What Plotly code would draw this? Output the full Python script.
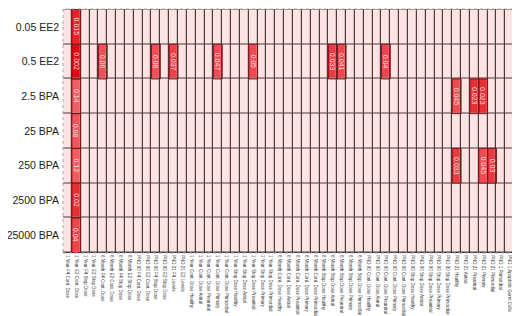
import plotly.graph_objects as go

rows = ["0.05 EE2", "0.5 EE2", "2.5 BPA", "25 BPA", "250 BPA", "2500 BPA", "25000 BPA"]

columns = [
    "1 Year F4 Cont. Dose", "1 Year E2 Cont. Dose", "1 Year F4 Stop Dose", "1 Year E2 Stop Dose",
    "6 Month F4 Cont. Dose", "6 Month E2 Cont. Dose", "6 Month F4 Stop Dose", "6 Month E2 Stop Dose",
    "PND 90 F4 Cont. Dose", "PND 90 E2 Cont. Dose", "PND 90 F4 Stop Dose", "PND 90 E2 Stop Dose",
    "PND 21 F4 Levels", "PND 21 E2 Levels",
    "1 Year Cont. Dose Healthy", "1 Year Cont. Dose Antral", "1 Year Cont. Dose Preantral",
    "1 Year Cont. Dose Primary", "1 Year Cont. Dose Primordial",
    "1 Year Stop Dose Healthy", "1 Year Stop Dose Antral", "1 Year Stop Dose Preantral",
    "1 Year Stop Dose Primary", "1 Year Stop Dose Primordial",
    "6 Month Cont. Dose Healthy", "6 Month Cont. Dose Antral", "6 Month Cont. Dose Preantral",
    "6 Month Cont. Dose Primary", "6 Month Cont. Dose Primordial",
    "6 Month Stop Dose Healthy", "6 Month Stop Dose Antral", "6 Month Stop Dose Preantral",
    "6 Month Stop Dose Primary", "6 Month Stop Dose Primordial",
    "PND 90 Cont. Dose Healthy", "PND 90 Cont. Dose Antral", "PND 90 Cont. Dose Preantral",
    "PND 90 Cont. Dose Primary", "PND 90 Cont. Dose Primordial",
    "PND 90 Stop Dose Healthy", "PND 90 Stop Dose Antral", "PND 90 Stop Dose Preantral",
    "PND 90 Stop Dose Primary", "PND 90 Stop Dose Primordial",
    "PND 21 Healthy", "PND 21 Antral", "PND 21 Preantral", "PND 21 Primary", "PND 21 Primordial",
    "PND 1 Primordial", "PND 1 Apoptotic Germ Cells", "PND 1 Healthy Germ Cells",
]

# significant cells (p-values)
sig_rows = ["0.05 EE2", "0.5 EE2", "0.5 EE2", "0.5 EE2", "0.5 EE2", "0.5 EE2", "0.5 EE2",
            "0.5 EE2", "0.5 EE2", "0.5 EE2",
            "2.5 BPA", "2.5 BPA", "2.5 BPA", "2.5 BPA",
            "25 BPA",
            "250 BPA", "250 BPA", "250 BPA", "250 BPA",
            "2500 BPA", "25000 BPA"]
sig_cols = ["1 Year E2 Cont. Dose",
            "1 Year E2 Cont. Dose", "6 Month F4 Cont. Dose", "PND 90 F4 Stop Dose", "PND 21 F4 Levels",
            "1 Year Cont. Dose Primary", "1 Year Stop Dose Preantral", "6 Month Stop Dose Antral",
            "6 Month Stop Dose Preantral", "PND 90 Cont. Dose Preantral",
            "1 Year E2 Cont. Dose", "PND 21 Healthy", "PND 21 Preantral", "PND 21 Primary",
            "1 Year E2 Cont. Dose",
            "1 Year E2 Cont. Dose", "PND 21 Healthy", "PND 21 Primary", "PND 21 Primordial",
            "1 Year E2 Cont. Dose", "1 Year E2 Cont. Dose"]
sig_pvals = [0.015,
             0.002, 0.06, 0.06, 0.037, 0.047, 0.05, 0.033, 0.041, 0.04,
             0.14, 0.045, 0.023, 0.023,
             0.08,
             0.12, 0.033, 0.045, 0.03,
             0.02, 0.04]
sig_labels = ["0.015",
              "0.002", "0.06", "0.06", "0.037", "0.047", "0.05", "0.033", "0.041", "0.04",
              "0.14", "0.045", "0.023", "0.023",
              "0.08",
              "0.12", "0.033", "0.045", "0.03",
              "0.02", "0.04"]

base_z = [[0 for _ in columns] for _ in rows]
sig_z = [[None for _ in columns] for _ in rows]
for r, c, p in zip(sig_rows, sig_cols, sig_pvals):
    sig_z[rows.index(r)][columns.index(c)] = p

fig = go.Figure()
fig.add_trace(go.Heatmap(
    z=base_z, x=columns, y=rows, colorscale=[[0, "#fde3e3"], [1, "#fde3e3"]],
    showscale=False, xgap=1.2, ygap=1, hoverinfo="skip"))
fig.add_trace(go.Heatmap(
    z=sig_z, x=columns, y=rows,
    colorscale=[[0, "#e2000f"], [0.12, "#e8282f"], [0.3, "#f04a52"], [0.5, "#f2525b"], [1, "#f26068"]],
    zmin=0, zmax=0.15, showscale=False, xgap=1.2, ygap=1))

for r, c, t in zip(sig_rows, sig_cols, sig_labels):
    ci = columns.index(c)
    ri = rows.index(r)
    fig.add_shape(type="rect", x0=ci - 0.5, x1=ci + 0.5, y0=ri - 0.5, y1=ri + 0.5,
                  line=dict(color="#7a1616", width=1), layer="above")
    fig.add_annotation(x=c, y=r, text=t, textangle=90, showarrow=False,
                       font=dict(size=7, color="#ffdede", family="Liberation Sans, Arial"))

fig.add_shape(type="rect", xref="paper", yref="paper", x0=0, x1=1, y0=0, y1=1,
              line=dict(color="#aaaaaa", width=1, dash="dot"))

fig.update_layout(
    width=520, height=316,
    margin=dict(l=55, r=5, t=1, b=71),
    paper_bgcolor="white", plot_bgcolor="#4a3c3c",
    font=dict(family="Liberation Sans, Arial", color="#222"),
)
fig.update_xaxes(type="category", categoryarray=columns, tickangle=90, automargin=False,
                 tickfont=dict(size=4.5, color="#333"), showgrid=False, zeroline=False, ticks="",
                 ticklabelstandoff=1)
fig.update_yaxes(type="category", categoryarray=rows, autorange="reversed", automargin=False,
                 tickfont=dict(size=10.5, color="#222"), showgrid=False, zeroline=False, ticks="",
                 ticklabelstandoff=3)

fig.write_html("out.html")
